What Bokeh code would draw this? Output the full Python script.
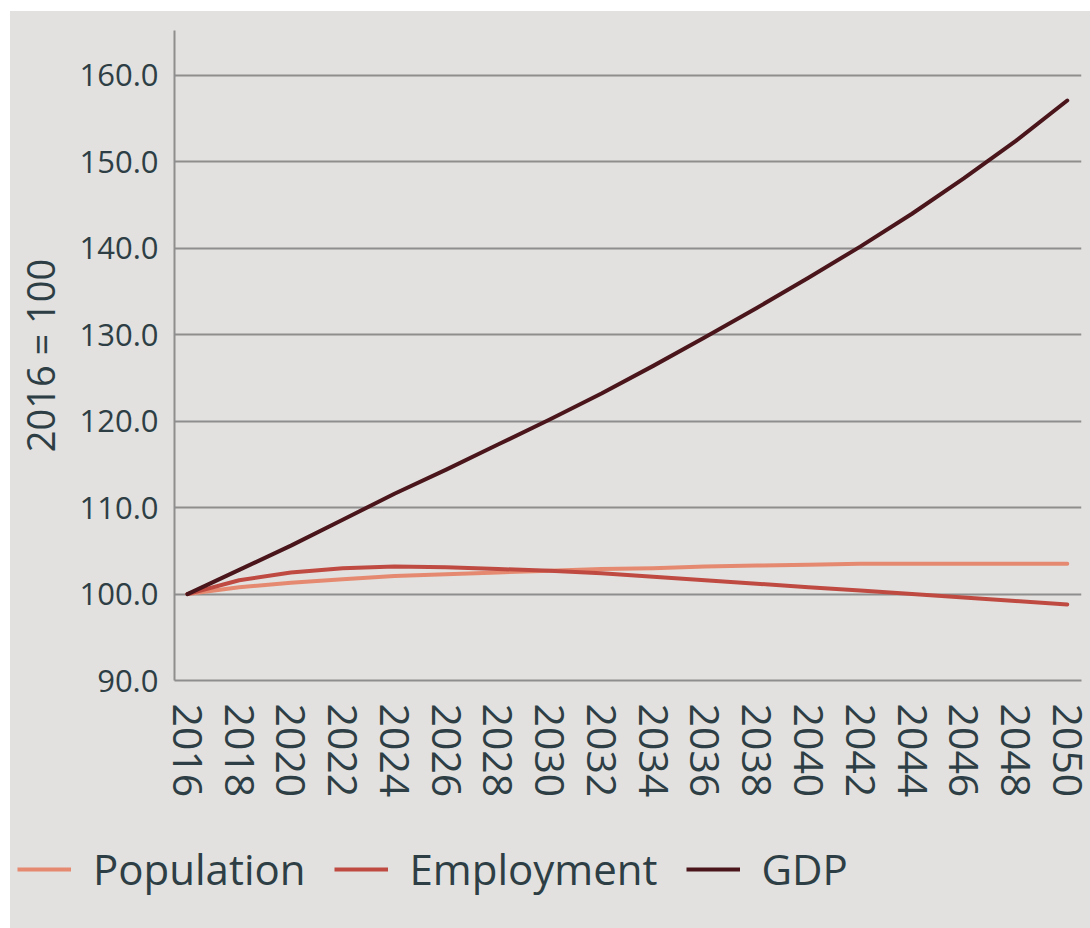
from bokeh.plotting import figure
from bokeh.models import (Range1d, FixedTicker, PrintfTickFormatter, Legend, LegendItem, Spacer)
from bokeh.layouts import column, row
from bokeh.embed import file_html
from bokeh.resources import INLINE

years = [2016, 2018, 2020, 2022, 2024, 2026, 2028, 2030, 2032, 2034,
         2036, 2038, 2040, 2042, 2044, 2046, 2048, 2050]
population = [100.0, 100.8, 101.3, 101.7, 102.1, 102.3, 102.5, 102.7, 102.9, 103.0,
              103.2, 103.3, 103.4, 103.5, 103.5, 103.5, 103.5, 103.5]
employment = [100.0, 101.6, 102.5, 103.0, 103.2, 103.1, 102.9, 102.7, 102.4, 102.0,
              101.6, 101.2, 100.8, 100.4, 100.0, 99.6, 99.2, 98.8]
gdp = [100.0, 102.8, 105.6, 108.6, 111.6, 114.4, 117.3, 120.2, 123.2, 126.4,
       129.7, 133.1, 136.6, 140.2, 144.0, 148.1, 152.4, 157.1]
series_names = ["Population", "Employment", "GDP"]
y_ticks = [90, 100, 110, 120, 130, 140, 150, 160]
y_label = "2016 = 100"

colors = ["#e58a70", "#bf4a42", "#4a161b"]
BG = "#e2e1df"
TXT = "#2e3e45"
GRID = "#8e8e8e"
FONT = "Open Sans"
series_vals = [population, employment, gdp]

p = figure(width=1080, height=804, output_backend="svg", toolbar_location=None,
           x_range=Range1d(2015.5, 2050.55), y_range=Range1d(90, 165.2),
           min_border_left=164, min_border_right=9, min_border_top=19,
           min_border_bottom=135)
p.background_fill_color = BG
p.border_fill_color = BG
p.outline_line_color = None

for name, vals, c in zip(series_names, series_vals, colors):
    p.line(years, vals, line_color=c, line_width=4, line_join="round", line_cap="round")

# axes
p.xaxis.ticker = FixedTicker(ticks=years)
p.xaxis.major_label_orientation = "vertical"
p.xaxis.major_label_text_font = FONT
p.xaxis.major_label_text_font_size = "41px"
p.xaxis.major_label_text_color = TXT
p.xaxis.major_label_standoff = 23
p.xaxis.major_tick_out = 0
p.xaxis.major_tick_in = 0
p.xaxis.major_tick_line_color = None
p.xaxis.minor_tick_line_color = None
p.xaxis.axis_line_color = GRID
p.xaxis.axis_line_width = 2

p.yaxis.ticker = FixedTicker(ticks=y_ticks)
p.yaxis.formatter = PrintfTickFormatter(format="%.1f")
p.yaxis.major_label_text_font = FONT
p.yaxis.major_label_text_font_size = "31px"
p.yaxis.major_label_text_color = TXT
p.yaxis.major_label_standoff = 16
p.yaxis.major_tick_out = 0
p.yaxis.major_tick_in = 0
p.yaxis.major_tick_line_color = None
p.yaxis.minor_tick_line_color = None
p.yaxis.axis_line_color = GRID
p.yaxis.axis_line_width = 2
p.yaxis.axis_label = y_label
p.yaxis.axis_label_text_font = FONT
p.yaxis.axis_label_text_font_size = "38px"
p.yaxis.axis_label_text_font_style = "normal"
p.yaxis.axis_label_text_color = TXT
p.yaxis.axis_label_standoff = 10

p.xgrid.grid_line_color = None
p.ygrid.ticker = FixedTicker(ticks=[100, 110, 120, 130, 140, 150, 160])
p.ygrid.grid_line_color = GRID
p.ygrid.grid_line_width = 2

# legend strip below the chart (its lines lie outside its own view; only the legend shows)
lg = figure(width=1080, height=113, output_backend="svg", toolbar_location=None,
            x_axis_type=None, y_axis_type=None, x_range=Range1d(0, 1), y_range=Range1d(0, 1),
            min_border=0)
lg.background_fill_color = BG
lg.border_fill_color = BG
lg.outline_line_color = None
lg.xgrid.grid_line_color = None
lg.ygrid.grid_line_color = None
lg_renderers = []
for vals, c in zip(series_vals, colors):
    lg_renderers.append(lg.line(years, vals, line_color=c, line_width=4))

legend = Legend(items=[LegendItem(label=n, renderers=[r]) for n, r in zip(series_names, lg_renderers)],
                orientation="horizontal", location=(7, 31))
legend.background_fill_alpha = 0
legend.border_line_color = None
legend.padding = 0
legend.margin = 0
legend.spacing = 28
legend.label_standoff = 22
legend.glyph_width = 54
legend.glyph_height = 44
legend.label_text_font = FONT
legend.label_text_font_size = "42px"
legend.label_text_color = TXT
legend.label_height = 44
lg.add_layout(legend, "center")

inner = column(row(p), row(lg), styles={"background-color": BG})
layout = column(Spacer(height=11), row(Spacer(width=10), inner))
open("out.html", "w").write(file_html(layout, INLINE))
